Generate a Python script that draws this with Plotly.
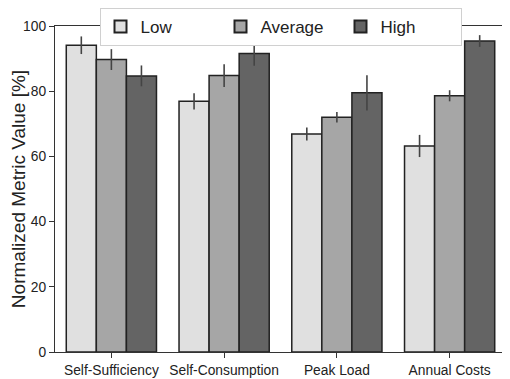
import plotly.graph_objects as go

categories = ["Self-Sufficiency", "Self-Consumption", "Peak Load", "Annual Costs"]
series_names = ["Low", "Average", "High"]
low_vals = [94.1, 76.9, 66.9, 63.2]
low_err = [2.7, 2.5, 2.0, 3.4]
avg_vals = [89.7, 84.8, 72.0, 78.6]
avg_err = [3.2, 3.5, 1.6, 1.7]
high_vals = [84.7, 91.6, 79.5, 95.4]
high_err = [3.2, 3.8, 5.4, 1.8]
colors = ["#e0e0e0", "#a6a6a6", "#646464"]
y_ticks = [0, 20, 40, 60, 80, 100]

fig = go.Figure()
for name, vals, errs, col in zip(series_names, [low_vals, avg_vals, high_vals],
                                 [low_err, avg_err, high_err], colors):
    fig.add_trace(go.Bar(
        name=name, x=categories, y=vals,
        marker=dict(color=col, line=dict(color="#222222", width=1.5)),
        error_y=dict(type="data", array=errs, visible=True, color="#444444",
                     thickness=1.6, width=0),
    ))

# page body has an 8px default margin, so the figure is sized to fit inside it
fig.update_layout(
    width=502, height=371,
    margin=dict(l=47, r=4, t=18, b=27, autoexpand=False),
    paper_bgcolor="white", plot_bgcolor="white",
    barmode="group", bargap=0.2, bargroupgap=0,
    font=dict(family="Liberation Sans, Arial, sans-serif", size=13, color="#222222"),
    showlegend=True,
    legend=dict(orientation="h", x=0.5, xanchor="center", y=1.055, yanchor="top",
                bgcolor="white", bordercolor="#d0d0d0", borderwidth=1,
                font=dict(size=17), entrywidth=75, entrywidthmode="pixels",
                itemsizing="constant"),
    xaxis=dict(showline=True, linecolor="#333333", linewidth=1.2, mirror=True,
               ticks="outside", ticklen=5, tickcolor="#333333", tickfont=dict(size=13.8)),
    yaxis=dict(range=[0, 100], tickvals=y_ticks, showline=True, linecolor="#333333",
               linewidth=1.2, mirror=True, ticks="outside", ticklen=5,
               tickcolor="#333333", showgrid=False, zeroline=False,
               tickfont=dict(size=13.8),
               title=dict(text="Normalized Metric Value [%]", font=dict(size=19), standoff=5)),
)

fig.write_html("out.html")
